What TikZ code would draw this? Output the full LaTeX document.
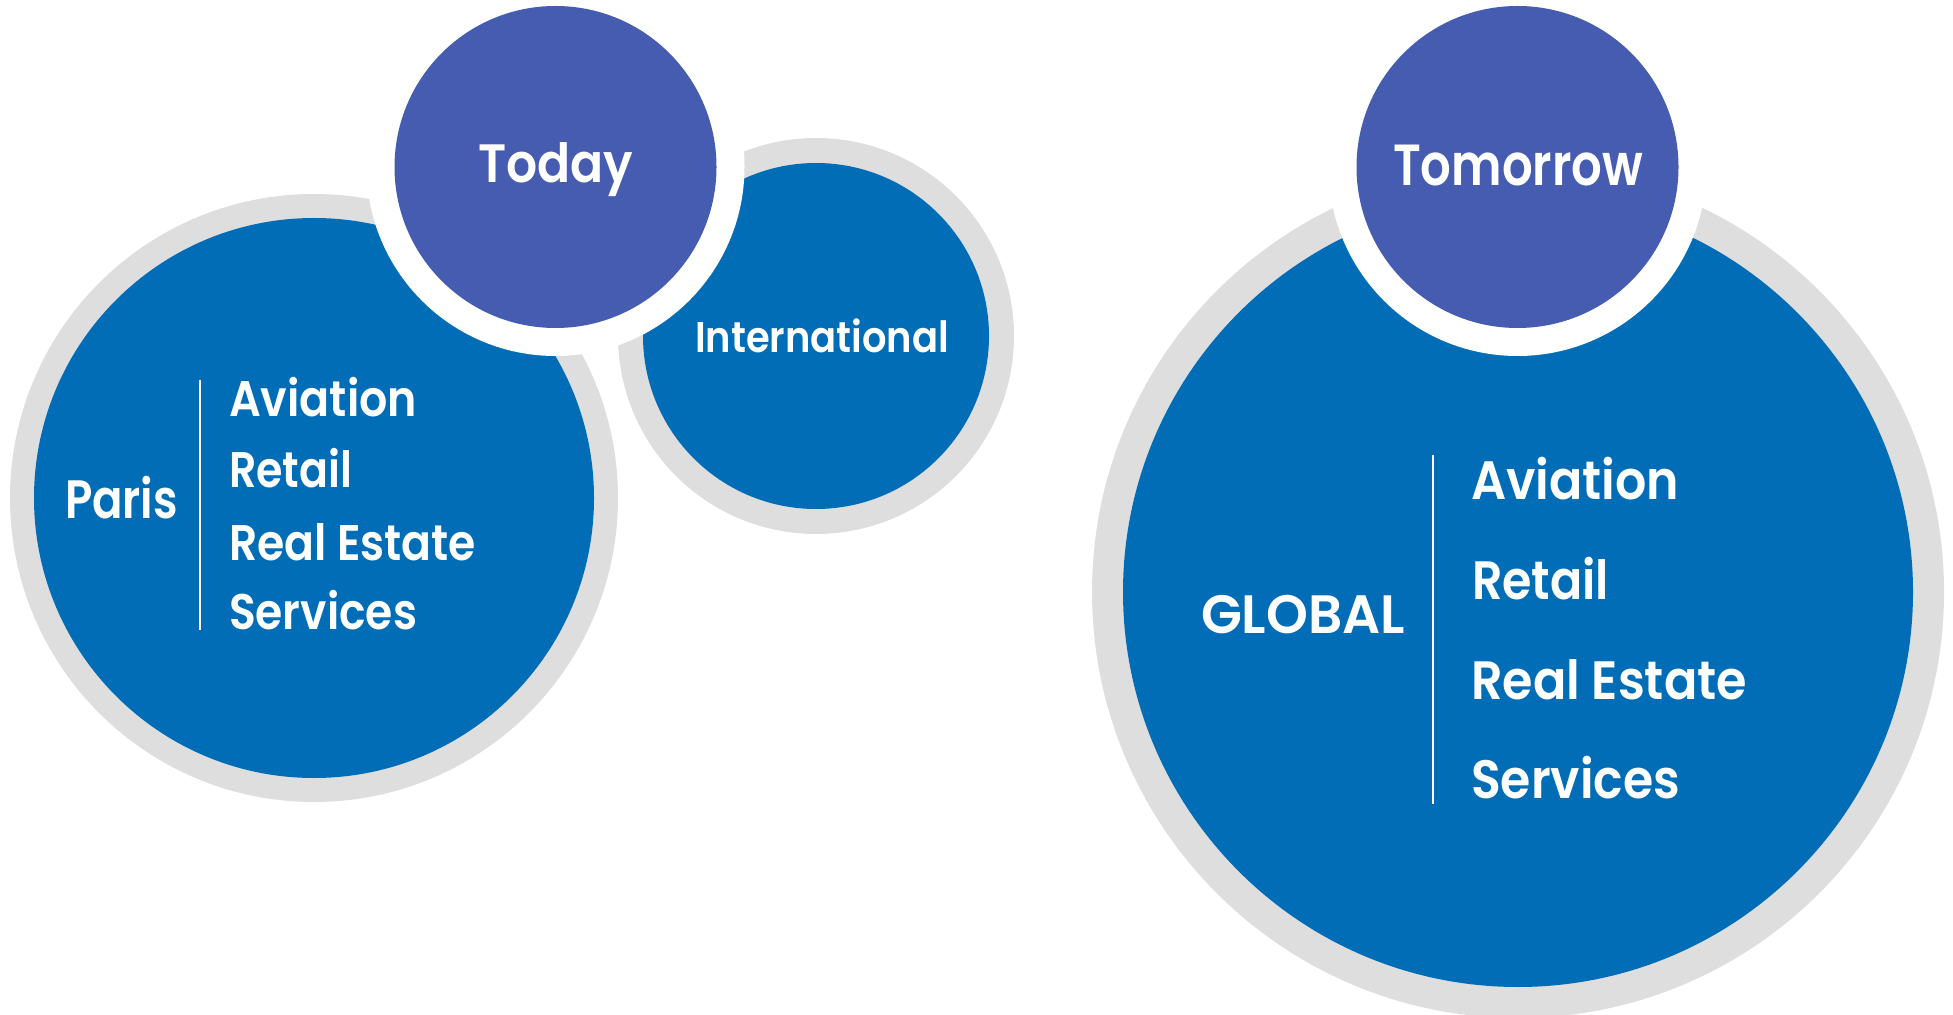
\documentclass[tikz,border=0pt]{standalone}
\usepackage{fontspec}
\setmainfont{Poppins}[BoldFont={Poppins SemiBold}]
\usepackage{graphicx}

\definecolor{ringgray}{RGB}{222,222,222}
\definecolor{discblue}{RGB}{1,109,183}
\definecolor{capviolet}{RGB}{69,92,176}

% set a label in bold at a given size, stretched to a given width
\newcommand{\lbl}[3]{\resizebox{#2}{\height}{\fontsize{#1}{#1}\selectfont\bfseries #3}}

\tikzset{
  txt/.style={inner sep=0pt, outer sep=0pt, text=white},
  westtxt/.style={txt, anchor=base west},
  midtxt/.style={txt, anchor=base},
  divider/.style={draw=white, line width=0.9pt}
}

\begin{document}
\begin{tikzpicture}[x=0.5pt, y=-0.5pt]
  \useasboundingbox (0,0) rectangle (1953,1015);
  \clip (0,0) rectangle (1953,1015);

  % Paris disc
  \fill[ringgray] (314,498) circle (304);
  \fill[discblue] (314,498) circle (280);

  % International disc
  \fill[ringgray] (816,336) circle (198);
  \fill[discblue] (816,336) circle (173);

  % Today cap
  \fill[white] (555.5,167) circle (189);
  \fill[capviolet] (555.5,167) circle (161);

  % Global disc
  \fill[ringgray] (1518,592) circle (426);
  \fill[discblue] (1518,592) circle (395);

  % Tomorrow cap
  \fill[white] (1517.5,167) circle (189);
  \fill[capviolet] (1517.5,167) circle (161);

  % headings
  \node[midtxt] (today) at (556,183) {\lbl{27pt}{77.5pt}{Today}};
  \node[midtxt] (tomorrow) at (1518,186) {\lbl{29pt}{125pt}{Tomorrow}};
  \node[midtxt] (intl) at (822,353) {\lbl{21.5pt}{127pt}{International}};

  % Paris block
  \node[westtxt] (paris) at (65,519) {\lbl{27pt}{56.5pt}{Paris}};
  \coordinate (ltop) at (200,380);
  \coordinate (lbot) at (200,630);
  \draw[divider] (ltop) -- (lbot);
  \node[westtxt] (lav) at (229,417) {\lbl{25pt}{94pt}{Aviation}};
  \node[westtxt] (lre) at (229,488) {\lbl{25pt}{61.5pt}{Retail}};
  \node[westtxt] (lrs) at (229,560) {\lbl{25pt}{123.5pt}{Real Estate}};
  \node[westtxt] (lse) at (229,629) {\lbl{25pt}{94pt}{Services}};

  % Global block
  \node[westtxt] (global) at (1201,633) {\lbl{27pt}{102pt}{GLOBAL}};
  \coordinate (rtop) at (1433,455);
  \coordinate (rbot) at (1433,804);
  \draw[divider] (rtop) -- (rbot);
  \node[westtxt] (rav) at (1471,500) {\lbl{27pt}{104pt}{Aviation}};
  \node[westtxt] (rre) at (1472,599) {\lbl{27pt}{68.5pt}{Retail}};
  \node[westtxt] (rrs) at (1471,699) {\lbl{27pt}{138pt}{Real Estate}};
  \node[westtxt] (rse) at (1471,798) {\lbl{27pt}{104.5pt}{Services}};
\end{tikzpicture}
\end{document}
